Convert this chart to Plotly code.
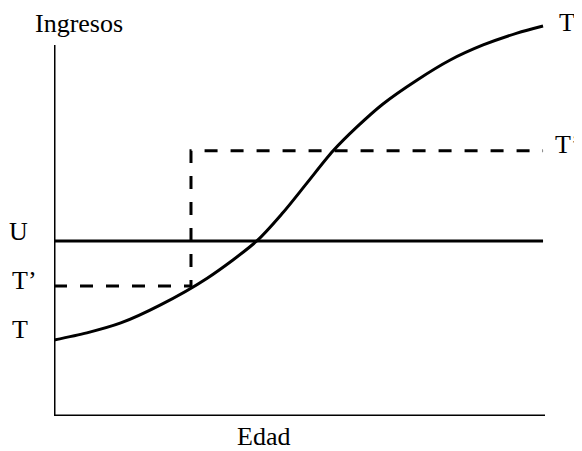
import plotly.graph_objects as go

# Curve T (ingresos vs edad), arbitrary units 0-100
t_x = [0, 6.7, 13.6, 21.6, 31.2, 41.3, 46.6, 51.5, 56.8, 61.7, 67.0, 73.9, 80.7, 87.4, 94.3, 99.6]
t_y = [19.2, 21.0, 23.5, 28.0, 34.8, 44.2, 51.3, 58.8, 66.9, 73.0, 78.8, 84.8, 89.9, 93.7, 96.7, 98.5]

# Line U (constant)
u_x = [0, 99.6]
u_y = [44.2, 44.2]

# Step T'
tp_x = [0, 27.9, 27.9, 99.6]
tp_y = [32.8, 32.8, 67.0, 67.0]

axis_top = 93.7
x_end = 100

font = dict(family="Times New Roman, Liberation Serif, DejaVu Serif, serif", size=26, color="black")

fig = go.Figure()
fig.add_trace(go.Scatter(x=t_x, y=t_y, mode="lines", line=dict(color="black", width=3, shape="spline", smoothing=0.8), hoverinfo="skip"))
fig.add_trace(go.Scatter(x=u_x, y=u_y, mode="lines", line=dict(color="black", width=3), hoverinfo="skip"))
fig.add_trace(go.Scatter(x=tp_x, y=tp_y, mode="lines", line=dict(color="black", width=3, dash="13px,13px"), hoverinfo="skip"))
# axes
fig.add_trace(go.Scatter(x=[0, 0, x_end], y=[axis_top, 0, 0], mode="lines", line=dict(color="black", width=3), hoverinfo="skip"))

ann = [
    ("Ingresos", 5.1, 99.1, "center"),
    ("Edad", 42.6, -5.2, "center"),
    ("U", -7.2, 46.6, "center"),
    ("T’", -6.0, 34.3, "center"),
    ("T", -7.0, 21.8, "center"),
    ("T", 102.5, 99.4, "left"),
    ("T’", 101.6, 68.5, "left"),
]
for txt, x, y, xa in ann:
    fig.add_annotation(x=x / 100, y=y / 100, xref="paper", yref="paper", text=txt,
                       showarrow=False, xanchor=xa, yanchor="middle", font=font)

fig.update_layout(
    width=574, height=443,
    margin=dict(l=46, r=37, t=12, b=35),
    paper_bgcolor="white", plot_bgcolor="white",
    showlegend=False,
    font=font,
    xaxis=dict(range=[0, 100], visible=False, fixedrange=True),
    yaxis=dict(range=[0, 100], visible=False, fixedrange=True),
)
fig.write_html("out.html")
